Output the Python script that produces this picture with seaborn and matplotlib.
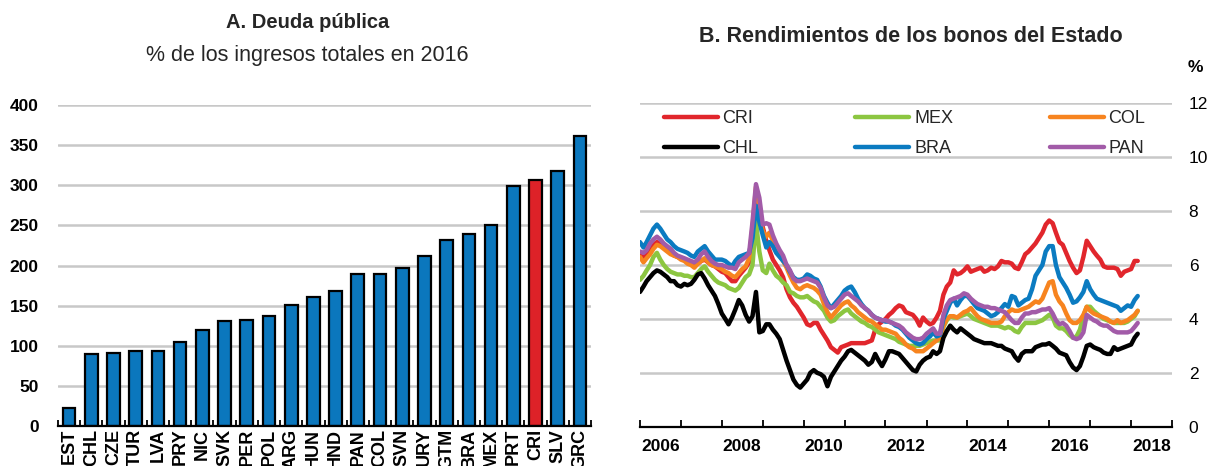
import numpy as np
import pandas as pd
import matplotlib
matplotlib.use("Agg")
import matplotlib.pyplot as plt
import matplotlib.dates as mdates
from matplotlib.ticker import FixedLocator, NullFormatter
import seaborn as sns

# ---------------- Panel A: public debt, % of total revenue (2016) ----------------
countries = ["EST", "CHL", "CZE", "TUR", "LVA", "PRY", "NIC", "SVK", "PER", "POL",
             "ARG", "HUN", "HND", "PAN", "COL", "SVN", "URY", "GTM", "BRA", "MEX",
             "PRT", "CRI", "SLV", "GRC"]
debt = [22, 90, 91, 93, 94, 105, 120, 131, 132, 137,
        151, 161, 168, 190, 190, 197, 212, 232, 239, 250,
        299, 307, 318, 361]
highlight = "CRI"

# ---------------- Panel B: government bond yields, monthly from Jan 2006 ----------------
start_month = "2006-01-01"
cri = [6.35, 6.3, 6.45, 6.6, 6.75, 6.85, 6.8, 6.65, 6.55, 6.45,
       6.35, 6.3, 6.25, 6.2, 6.1, 6.05, 5.95, 6.05, 6.15, 6.2,
       6.1, 6.0, 5.95, 5.85, 5.75, 5.7, 5.55, 5.4, 5.4, 5.6,
       5.75, 5.9, 6.1, 7.3, 8.6, 8.0, 7.4, 6.9, 6.55, 6.2,
       6.0, 5.8, 5.55, 5.1, 4.8, 4.6, 4.45, 4.25, 4.05, 3.8,
       3.75, 3.85, 3.85, 3.6, 3.4, 3.2, 2.95, 2.85, 2.75, 2.95,
       3.0, 3.05, 3.1, 3.1, 3.1, 3.1, 3.1, 3.15, 3.2, 3.6,
       3.8, 3.9, 4.0, 4.15, 4.25, 4.4, 4.5, 4.45, 4.25, 4.2,
       4.15, 4.0, 3.75, 4.05, 3.9, 3.8, 3.85, 4.05, 4.3, 4.9,
       5.2, 5.35, 5.8, 5.65, 5.7, 5.8, 5.95, 5.75, 5.8, 5.85,
       5.9, 5.75, 5.8, 5.9, 5.85, 5.95, 6.15, 6.1, 6.1, 6.05,
       5.9, 5.85, 6.1, 6.4, 6.5, 6.65, 6.8, 7.0, 7.2, 7.5,
       7.65, 7.55, 7.2, 6.85, 6.75, 6.45, 6.15, 5.9, 5.7, 5.8,
       6.3, 6.9, 6.7, 6.5, 6.35, 6.2, 5.95, 5.9, 5.9, 5.9,
       5.85, 5.6, 5.75, 5.8, 5.85, 6.15, 6.15]
chl = [5.0, 5.2, 5.4, 5.55, 5.7, 5.8, 5.75, 5.65, 5.55, 5.4,
       5.4, 5.25, 5.2, 5.3, 5.25, 5.3, 5.45, 5.65, 5.7, 5.5,
       5.25, 5.05, 4.85, 4.55, 4.2, 4.0, 3.8, 4.05, 4.35, 4.7,
       4.5, 4.15, 3.9, 4.1, 5.0, 3.5, 3.55, 3.8, 3.8, 3.6,
       3.45, 3.25, 2.85, 2.45, 2.1, 1.75, 1.55, 1.45, 1.6, 1.75,
       2.0, 2.1, 2.0, 1.95, 1.85, 1.5, 1.85, 2.05, 2.25, 2.45,
       2.6, 2.8, 2.85, 2.75, 2.65, 2.55, 2.45, 2.3, 2.4, 2.7,
       2.45, 2.25, 2.5, 2.8, 2.8, 2.75, 2.7, 2.55, 2.4, 2.25,
       2.1, 2.05, 2.3, 2.45, 2.55, 2.6, 2.8, 2.7, 2.8, 3.3,
       3.55, 3.75, 3.6, 3.5, 3.65, 3.55, 3.45, 3.35, 3.25, 3.2,
       3.15, 3.1, 3.1, 3.1, 3.05, 3.0, 3.0, 2.9, 2.85, 2.8,
       2.6, 2.45, 2.7, 2.8, 2.8, 2.8, 2.95, 3.0, 3.05, 3.05,
       3.1, 3.0, 2.9, 2.75, 2.7, 2.65, 2.4, 2.2, 2.1, 2.25,
       2.6, 3.0, 3.05, 2.95, 2.9, 2.85, 2.75, 2.7, 2.7, 2.95,
       2.85, 2.9, 2.95, 3.0, 3.05, 3.3, 3.45]
mex = [5.45, 5.6, 5.8, 6.0, 6.3, 6.45, 6.2, 6.0, 5.85, 5.75,
       5.7, 5.65, 5.65, 5.6, 5.6, 5.55, 5.55, 5.7, 5.85, 5.95,
       5.75, 5.6, 5.45, 5.35, 5.3, 5.25, 5.15, 5.1, 5.05, 5.15,
       5.35, 5.55, 5.65, 6.0, 7.6, 6.5, 5.8, 5.7, 6.05, 5.8,
       5.6, 5.5, 5.35, 5.25, 5.0, 4.95, 4.85, 4.8, 4.8, 4.85,
       4.75, 4.65, 4.6, 4.45, 4.3, 4.05, 3.9, 3.95, 4.1, 4.2,
       4.3, 4.35, 4.2, 4.1, 4.0, 3.9, 3.85, 3.75, 3.7, 3.6,
       3.5, 3.45, 3.4, 3.35, 3.3, 3.25, 3.15, 3.1, 3.05, 3.0,
       3.0, 3.0, 3.0, 3.05, 3.1, 3.15, 3.2, 3.2, 3.2, 3.7,
       3.95, 4.1, 4.05, 4.05, 4.1, 4.15, 4.2, 4.1, 4.0, 3.95,
       3.9, 3.85, 3.8, 3.75, 3.75, 3.75, 3.7, 3.65, 3.7, 3.65,
       3.55, 3.5, 3.7, 3.85, 3.85, 3.85, 3.85, 3.9, 3.95, 4.05,
       4.15, 4.05, 3.75, 3.65, 3.65, 3.55, 3.4, 3.3, 3.35, 3.6,
       4.1, 4.45, 4.45, 4.3, 4.2, 4.1, 4.0, 3.95, 3.9, 3.85,
       3.85, 3.85, 3.85, 3.9, 4.0, 4.1, 4.3]
bra = [6.85, 6.65, 6.85, 7.1, 7.35, 7.5, 7.35, 7.15, 6.95, 6.85,
       6.7, 6.6, 6.55, 6.5, 6.45, 6.35, 6.3, 6.5, 6.6, 6.7,
       6.5, 6.35, 6.2, 6.2, 6.2, 6.15, 6.05, 5.95, 6.15, 6.3,
       6.35, 6.4, 6.45, 7.0, 8.2, 7.6, 7.1, 6.65, 6.85, 6.7,
       6.45, 6.3, 6.15, 6.0, 5.75, 5.55, 5.45, 5.45, 5.5, 5.65,
       5.6, 5.5, 5.45, 5.2, 4.85, 4.6, 4.4, 4.55, 4.7, 4.85,
       5.05, 5.15, 5.2, 5.0, 4.75, 4.55, 4.4, 4.3, 4.15, 4.05,
       4.0, 3.95, 3.9, 3.9, 3.85, 3.75, 3.7, 3.6, 3.45, 3.3,
       3.2, 3.1, 3.05, 3.1, 3.25, 3.35, 3.5, 3.35, 3.4, 4.0,
       4.3, 4.6, 4.75, 4.5, 4.7, 4.85, 4.85, 4.7, 4.55, 4.4,
       4.35, 4.3, 4.2, 4.1, 4.15, 4.25, 4.4, 4.55, 4.45, 4.85,
       4.8, 4.5, 4.6, 4.7, 4.75, 5.1, 5.6, 5.8, 6.0, 6.5,
       6.7, 6.7, 6.0, 5.55, 5.35, 5.15, 4.9, 4.6, 4.65, 4.8,
       5.0, 5.4, 5.1, 4.9, 4.75, 4.7, 4.65, 4.6, 4.55, 4.5,
       4.45, 4.3, 4.4, 4.5, 4.45, 4.7, 4.85]
col = [6.3, 6.1, 6.25, 6.4, 6.6, 6.75, 6.7, 6.6, 6.5, 6.4,
       6.35, 6.3, 6.2, 6.15, 6.05, 6.0, 5.9, 6.05, 6.15, 6.25,
       6.1, 6.0, 5.95, 5.9, 5.85, 5.75, 5.7, 5.6, 5.55, 5.7,
       5.85, 5.95, 6.25, 7.4, 8.9, 7.9, 7.25, 7.05, 7.2, 6.9,
       6.6, 6.35, 6.15, 5.9, 5.6, 5.35, 5.15, 5.1, 5.2, 5.25,
       5.2, 5.15, 5.05, 4.9, 4.55, 4.25, 4.05, 4.2, 4.35, 4.5,
       4.6, 4.65, 4.5, 4.4, 4.25, 4.15, 4.05, 3.95, 3.9, 3.8,
       3.7, 3.6, 3.6, 3.55, 3.5, 3.45, 3.3, 3.2, 3.05, 2.95,
       2.9, 2.8, 2.8, 2.8, 2.9, 3.0, 3.1, 3.2, 3.3, 3.75,
       4.0, 4.1, 4.1, 4.05, 4.15, 4.25, 4.3, 4.4, 4.25, 4.1,
       4.0, 3.95, 3.9, 3.85, 3.85, 3.85, 3.9, 4.1, 4.25, 4.35,
       4.3, 4.3, 4.35, 4.4, 4.45, 4.55, 4.65, 4.6, 4.75, 5.05,
       5.35, 5.4, 4.9, 4.65, 4.5, 4.2, 3.95, 3.85, 3.85, 3.95,
       4.15, 4.45, 4.3, 4.2, 4.15, 4.1, 4.05, 4.0, 3.9, 3.85,
       3.95, 3.85, 3.9, 3.95, 4.05, 4.15, 4.3]
pan = [6.5, 6.45, 6.55, 6.8, 6.95, 7.05, 6.95, 6.8, 6.7, 6.6,
       6.45, 6.35, 6.3, 6.25, 6.2, 6.15, 6.1, 6.2, 6.4, 6.5,
       6.3, 6.15, 6.05, 6.0, 6.0, 5.95, 5.9, 5.9, 5.85, 6.1,
       6.2, 6.3, 6.45, 7.6, 9.0, 8.5, 7.5, 7.55, 7.5, 7.1,
       6.8, 6.55, 6.35, 6.0, 5.8, 5.5, 5.4, 5.4, 5.45, 5.5,
       5.45, 5.4, 5.35, 5.15, 4.8, 4.5, 4.4, 4.45, 4.6, 4.75,
       4.9, 4.95, 4.85, 4.75, 4.65, 4.5, 4.4, 4.3, 4.15, 4.05,
       4.0, 3.95, 3.95, 3.9, 3.85, 3.8, 3.75, 3.65, 3.5, 3.4,
       3.3, 3.25, 3.25, 3.3, 3.45, 3.55, 3.65, 3.45, 3.45, 4.15,
       4.5, 4.7, 4.75, 4.8, 4.85, 4.95, 4.9, 4.75, 4.65, 4.55,
       4.5, 4.45, 4.45, 4.4, 4.4, 4.35, 4.3, 4.25, 4.1, 3.95,
       3.85, 3.85, 4.05, 4.2, 4.2, 4.25, 4.25, 4.3, 4.35, 4.35,
       4.4, 4.2, 3.95, 3.8, 3.85, 3.75, 3.55, 3.3, 3.25, 3.3,
       3.5, 4.15, 4.05, 3.95, 3.9, 3.8, 3.75, 3.75, 3.65, 3.55,
       3.5, 3.5, 3.5, 3.5, 3.55, 3.7, 3.85]

series = {"CRI": cri, "MEX": mex, "COL": col, "CHL": chl, "BRA": bra, "PAN": pan}
line_colors = {"CRI": "#e1262c", "MEX": "#8cc641", "COL": "#f7841f",
               "CHL": "#000000", "BRA": "#0b7bc1", "PAN": "#a25ba8"}
draw_order = ["CRI", "MEX", "COL", "CHL", "BRA", "PAN"]
legend_order = ["CRI", "CHL", "MEX", "BRA", "COL", "PAN"]

BAR_BLUE = "#0b77bd"
BAR_RED = "#dd2228"
GRID = "#c8c8c8"

sns.set_theme(style="white")
plt.rcParams["font.family"] = ["Liberation Sans", "DejaVu Sans"]

W, H = 1212, 466
fig = plt.figure(figsize=(W / 100, H / 100), dpi=100)
ax1 = fig.add_axes([58 / W, 40 / H, 533 / W, 321 / H])
ax2 = fig.add_axes([640 / W, 39.3 / H, 532 / W, 323.4 / H])

# ---- bars ----
bar_df = pd.DataFrame({"country": countries, "debt": debt})
bar_palette = {c: (BAR_RED if c == highlight else BAR_BLUE) for c in countries}
sns.barplot(data=bar_df, x="country", y="debt", hue="country", palette=bar_palette,
            legend=False, width=0.57, edgecolor="black", linewidth=1.6,
            saturation=1, ax=ax1)
ax1.set_xlim(-0.5, len(countries) - 0.5)
ax1.set_ylim(0, 400)
ax1.set_yticks(np.arange(0, 401, 50))
ax1.yaxis.grid(True, color=GRID, linewidth=1.8)
ax1.xaxis.grid(False)
ax1.set_axisbelow(True)
ax1.set_xlabel("")
ax1.set_ylabel("")
ax1.set_xticks(range(len(countries)))
ax1.set_xticklabels(countries, rotation=90, fontweight="bold", fontsize=13)
ax1.xaxis.set_minor_locator(FixedLocator(np.arange(-0.5, len(countries), 1)))
ax1.tick_params(axis="x", which="major", length=0, pad=2, colors="black")
ax1.tick_params(axis="x", which="minor", direction="in", length=4, width=1.3,
                color="black", bottom=True)
ax1.tick_params(axis="y", length=0, pad=14, labelsize=12.5, colors="black")
for lab in ax1.get_yticklabels():
    lab.set_fontweight("bold")
for s in ("left", "top", "right"):
    ax1.spines[s].set_visible(False)
ax1.spines["bottom"].set_color("black")
ax1.spines["bottom"].set_linewidth(1.6)

# ---- lines ----
dates = pd.date_range(start_month, periods=len(cri), freq="MS")
long_df = pd.concat(
    [pd.DataFrame({"date": dates, "yield": vals, "country": name})
     for name, vals in series.items()],
    ignore_index=True)
sns.lineplot(data=long_df, x="date", y="yield", hue="country", hue_order=draw_order,
             palette=line_colors, linewidth=3.2, ax=ax2)
handles, labels = ax2.get_legend_handles_labels()
by_label = dict(zip(labels, handles))
for h in by_label.values():
    h.set_linewidth(3.2)
ax2.legend([by_label[k] for k in legend_order], legend_order, ncol=3,
           loc="upper left", bbox_to_anchor=(0.045, 0.978, 0.905, 0.0),
           mode="expand", borderaxespad=0, borderpad=0, frameon=False,
           handlelength=3.0, handletextpad=0.25, labelspacing=0.7,
           fontsize=13)

ax2.set_xlim(pd.Timestamp("2006-01-01"), pd.Timestamp("2019-01-01"))
ax2.xaxis.set_major_locator(mdates.YearLocator(1))
ax2.xaxis.set_major_formatter(NullFormatter())
label_years = [mdates.date2num(pd.Timestamp(f"{y}-07-01")) for y in range(2006, 2019, 2)]
ax2.xaxis.set_minor_locator(FixedLocator(label_years))
ax2.xaxis.set_minor_formatter(mdates.DateFormatter("%Y"))
ax2.tick_params(axis="x", which="major", direction="in", length=5, width=1.3,
                color="black", bottom=True)
ax2.tick_params(axis="x", which="minor", length=0, pad=9, labelsize=12.5,
                colors="black")
for lab in ax2.get_xticklabels(minor=True):
    lab.set_fontweight("bold")
ax2.set_ylim(0, 12)
ax2.set_yticks(np.arange(0, 13, 2))
ax2.yaxis.tick_right()
ax2.tick_params(axis="y", length=0, pad=12, labelsize=12.5, colors="black")
ax2.yaxis.grid(True, color=GRID, linewidth=1.8)
ax2.xaxis.grid(False)
ax2.set_axisbelow(True)
ax2.set_xlabel("")
ax2.set_ylabel("")
for s in ("left", "top", "right"):
    ax2.spines[s].set_visible(False)
ax2.spines["bottom"].set_color("black")
ax2.spines["bottom"].set_linewidth(1.6)
ax2.text(1.03, 1.11, "%", transform=ax2.transAxes, fontsize=12.5,
         fontweight="bold", ha="left", va="center", color="black")

# ---- titles ----
fig.text(308 / W, 1 - 23 / H, "A. Deuda pública", ha="center", va="center",
         fontsize=14.5, fontweight="bold")
fig.text(307 / W, 1 - 56 / H, "% de los ingresos totales en 2016", ha="center",
         va="center", fontsize=15.5)
fig.text(911 / W, 1 - 37 / H, "B. Rendimientos de los bonos del Estado",
         ha="center", va="center", fontsize=15.5, fontweight="bold")

fig.savefig("out.png", dpi=100)
